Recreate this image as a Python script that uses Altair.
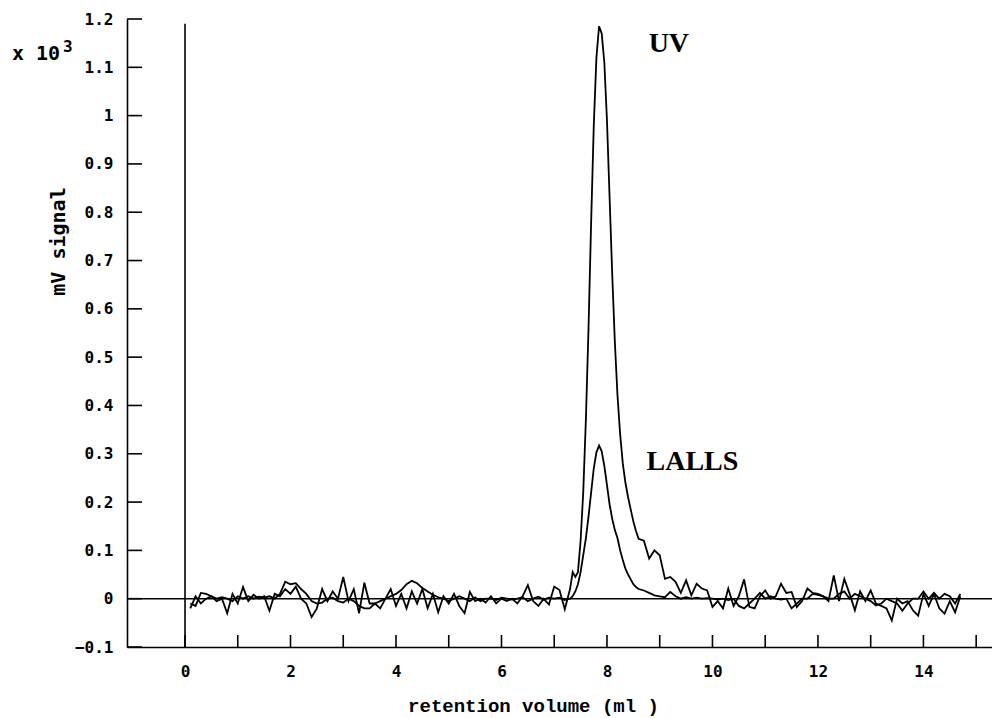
import altair as alt
import pandas as pd
import numpy as np

# ---- sampling grid (ml) ----
x_seg1 = [round(v, 2) for v in np.arange(0.1, 7.31, 0.1)]      # 0.1 .. 7.3
x_seg2 = [round(v, 2) for v in np.arange(7.35, 8.61, 0.05)]    # 7.35 .. 8.60
x_seg3 = [round(v, 2) for v in np.arange(8.7, 14.71, 0.1)]     # 8.7 .. 14.7

# ---- UV trace (x 10^3 mV) ----
uv_seg1 = [-0.02, 0.005, -0.01, 0.0, 0.005, -0.005, 0.0, -0.03, 0.01, -0.01,
           0.024, -0.005, 0.008, 0.0, 0.005, -0.025, 0.01, 0.005, 0.02, 0.01,
           0.025, 0.0, -0.01, -0.038, -0.02, 0.02, -0.005, 0.015, 0.0, 0.045,
           -0.005, 0.02, -0.03, 0.033, -0.01, -0.01, -0.02, 0.0, 0.02, -0.015,
           0.01, -0.02, 0.015, -0.01, 0.02, -0.02, 0.01, -0.028, 0.005, -0.01,
           0.01, -0.015, -0.03, 0.014, -0.005, 0.0, -0.008, 0.005, -0.01, 0.0,
           -0.005, 0.0, -0.01, 0.005, 0.028, -0.005, -0.015, 0.0, -0.012, 0.025,
           0.018, -0.022, 0.02]
uv_seg2 = [0.055, 0.045, 0.055, 0.12, 0.22, 0.37, 0.56, 0.78, 0.98, 1.12,
           1.185, 1.17, 1.11, 0.99, 0.83, 0.67, 0.53, 0.42, 0.34, 0.28,
           0.24, 0.21, 0.185, 0.16, 0.14, 0.124]
uv_seg3 = [0.12, 0.083, 0.1, 0.09, 0.041, 0.045, 0.035, 0.012, 0.038, 0.007,
           0.031, 0.021, 0.017, -0.017, -0.005, -0.02, 0.021, -0.015, 0.005, 0.04,
           -0.017, -0.02, 0.005, 0.017, 0.0, 0.005, 0.031, 0.012, 0.014, -0.017,
           -0.005, 0.021, 0.012, 0.01, 0.005, -0.005, 0.048, -0.005, 0.041, 0.01,
           -0.024, 0.015, -0.005, 0.017, -0.01, -0.015, -0.02, -0.045, 0.0, -0.01,
           -0.005, -0.024, -0.035, 0.01, -0.015, 0.01, -0.02, -0.031, -0.005, -0.028,
           0.005]

# ---- LALLS trace ----
ls_seg1 = [-0.01, -0.015, 0.012, 0.01, 0.005, 0.0, 0.003, 0.0, -0.005, 0.005,
           0.0, 0.005, 0.0, 0.004, 0.002, 0.005, 0.0, 0.01, 0.035, 0.03,
           0.032, 0.02, 0.01, -0.005, -0.01, -0.008, 0.0, 0.002, -0.005, -0.008,
           0.0, -0.005, -0.015, -0.02, -0.02, -0.01, -0.005, 0.0, 0.005, 0.01,
           0.018, 0.03, 0.037, 0.032, 0.022, 0.015, 0.008, 0.003, 0.0, -0.005,
           0.0, 0.005, 0.0, -0.005, 0.003, -0.005, 0.0, 0.0, -0.003, 0.002,
           0.0, -0.002, 0.0, 0.003, -0.005, 0.0, 0.004, -0.002, 0.002, 0.0,
           0.002, -0.003, 0.0]
ls_seg2 = [0.005, 0.015, 0.03, 0.055, 0.09, 0.125, 0.17, 0.22, 0.27, 0.303,
           0.317, 0.305, 0.275, 0.235, 0.195, 0.165, 0.142, 0.125, 0.1, 0.08,
           0.062, 0.05, 0.04, 0.03, 0.024, 0.02]
ls_seg3 = [0.017, 0.012, 0.007, 0.005, 0.003, 0.014, 0.005, 0.0, 0.003, 0.0,
           0.002, 0.0, 0.001, 0.0, -0.002, 0.0, -0.003, 0.0, -0.015, -0.02,
           -0.01, 0.0, 0.012, 0.0, 0.005, 0.0, -0.002, 0.0, -0.02, -0.01,
           0.0, 0.0, 0.01, 0.008, 0.005, 0.0, 0.0, 0.01, 0.015, 0.0,
           0.01, 0.005, 0.0, -0.005, -0.014, -0.01, 0.0, -0.005, -0.01, -0.025,
           -0.01, 0.0, 0.0, 0.015, 0.0, 0.012, 0.0, 0.01, 0.005, -0.01,
           0.01]

x_label_values = [0, 2, 4, 6, 8, 10, 12, 14]
x_tick_values = list(range(0, 16))
y_tick_values = [-0.1, 0, 0.1, 0.2, 0.3, 0.4, 0.5, 0.6, 0.7, 0.8, 0.9, 1.0, 1.1, 1.2]

series_names = ["UV", "LALLS"]
label_x = [8.79, 8.75]
label_y = [1.132, 0.267]

xs = x_seg1 + x_seg2 + x_seg3
uv = uv_seg1 + uv_seg2 + uv_seg3
ls = ls_seg1 + ls_seg2 + ls_seg3
assert len(xs) == len(uv) == len(ls), (len(xs), len(uv), len(ls))

df = pd.DataFrame({
    "v": xs + xs,
    "s": uv + ls,
    "series": ["UV"] * len(xs) + ["LALLS"] * len(xs),
})

W, H = 865, 628
xscale = alt.Scale(domain=[-1.1, 15.3], nice=False, zero=False)
yscale = alt.Scale(domain=[-0.1, 1.2], nice=False, zero=False)

x_axis = alt.Axis(values=x_label_values, ticks=False, tickSize=0, grid=False,
                  domainColor="black", domainWidth=1.6,
                  labelFont="DejaVu Sans Mono", labelFontSize=16, labelFontWeight="bold",
                  labelColor="black",
                  labelPadding=16, labelFlush=False, labelOverlap=False,
                  title="retention volume (ml )", titleFont="Liberation Mono",
                  titleFontSize=19, titleFontWeight="bold", titleColor="black",
                  titleX=406, titleY=64, titleAlign="center", titleBaseline="alphabetic")
y_axis = alt.Axis(values=y_tick_values, format=".1~f", ticks=False, tickSize=0, grid=False,
                  domainColor="black", domainWidth=1.6,
                  labelFont="DejaVu Sans Mono", labelFontSize=16, labelFontWeight="bold",
                  labelColor="black",
                  labelPadding=14, labelFlush=False, labelOverlap=False,
                  title="mV signal", titleFont="DejaVu Sans Mono", titleFontSize=20,
                  titleFontWeight="bold", titleColor="black", titleAngle=270,
                  titleX=-69, titleY=222, titleAlign="center", titleBaseline="middle")

X = lambda: alt.X("v:Q", scale=xscale, axis=x_axis)
Y = lambda: alt.Y("s:Q", scale=yscale, axis=y_axis)

lines = alt.Chart(df).mark_line(color="black", strokeWidth=1.8).encode(
    x=X(), y=Y(), detail="series:N")

zero_line = alt.Chart(pd.DataFrame({"s": [0]})).mark_rule(color="black", strokeWidth=1.6).encode(
    y=Y(), x=alt.value(0), x2=alt.value(W))

vline = alt.Chart(pd.DataFrame({"v": [0], "s": [-0.1], "s2": [1.19]})).mark_rule(
    color="black", strokeWidth=1.6).encode(x=X(), y=Y(), y2="s2:Q")

yticks = alt.Chart(pd.DataFrame({"s": y_tick_values})).mark_rule(color="black", strokeWidth=1.6).encode(
    y=Y(), x=alt.value(0), x2=alt.value(15))

xticks = alt.Chart(pd.DataFrame({"v": x_tick_values})).mark_rule(color="black", strokeWidth=1.6).encode(
    x=X(), y=alt.value(H), y2=alt.value(H - 12))

labels = alt.Chart(pd.DataFrame({"v": label_x, "s": label_y, "t": series_names})).mark_text(
    font="Liberation Serif", fontWeight="bold", fontSize=28, align="left",
    baseline="alphabetic", color="black").encode(x=X(), y=Y(), text="t:N")

mult = alt.Chart(pd.DataFrame({"t": ["x 10"]})).mark_text(
    font="DejaVu Sans Mono", fontSize=20, fontWeight="bold", align="left",
    baseline="alphabetic", color="black").encode(
    x=alt.value(-115), y=alt.value(41), text="t:N")
expo = alt.Chart(pd.DataFrame({"t": ["3"]})).mark_text(
    font="DejaVu Sans Mono", fontSize=16, fontWeight="bold", align="left",
    baseline="alphabetic", color="black").encode(
    x=alt.value(-64), y=alt.value(33), text="t:N")

chart = alt.layer(lines, zero_line, vline, yticks, xticks, labels, mult, expo).properties(
    width=W, height=H,
    autosize=alt.AutoSizeParams(type="none"),
    padding={"left": 119, "top": 11, "right": 0, "bottom": 70},
    background="white",
).configure_view(stroke=None)

chart.save("out.html", embed_options={"renderer": "svg", "actions": False})
